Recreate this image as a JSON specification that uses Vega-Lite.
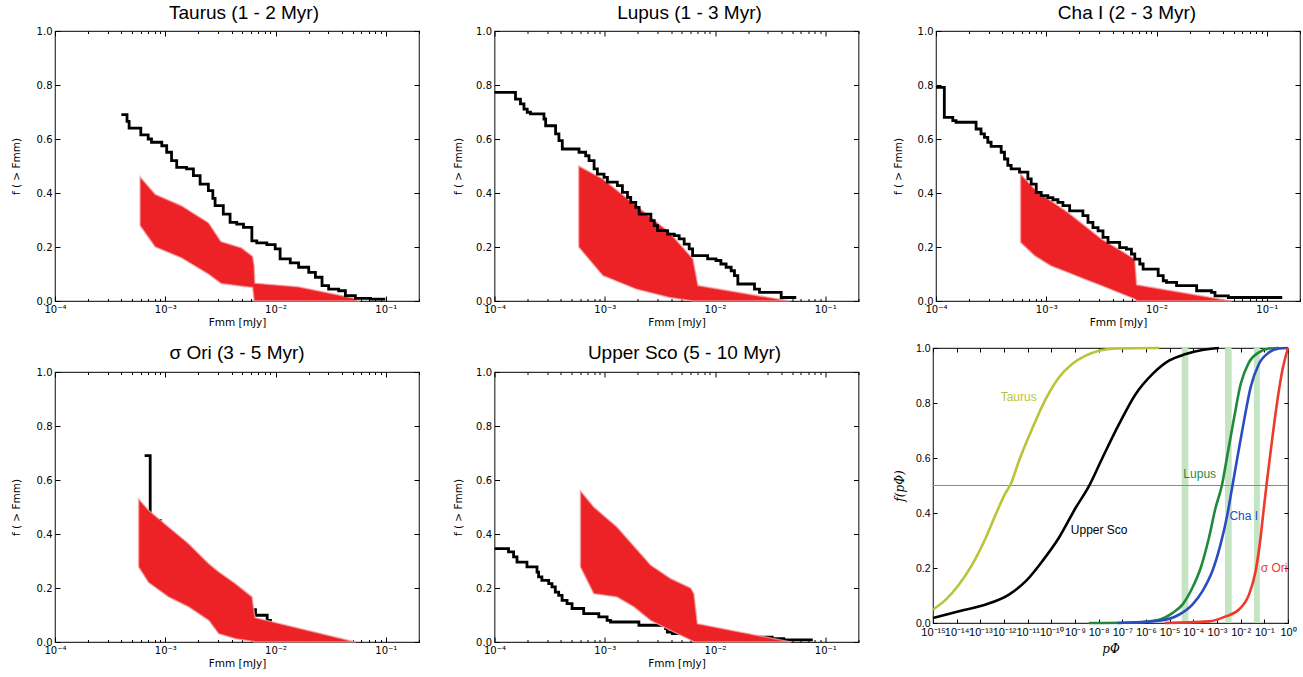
{
  "$schema": "https://vega.github.io/schema/vega-lite/v6.json",
  "background": "white",
  "padding": {"left": 10, "top": 3, "right": 0, "bottom": 0},
  "config": {
    "view": {"stroke": "#333", "strokeWidth": 1.2},
    "axis": {"domain": false, "grid": false, "tickColor": "#000", "tickWidth": 1, "labelColor": "#000", "titleColor": "#000", "labelFont": "DejaVu Sans", "labelFontSize": 10, "titleFont": "DejaVu Sans", "titleFontSize": 10.5, "titleFontWeight": "normal", "labelFlush": false, "labelOverlap": false},
    "title": {"font": "Liberation Sans", "fontSize": 19, "fontWeight": "normal", "color": "#000", "anchor": "middle", "baseline": "alphabetic"}
  },
  "datasets": {
    "taurus_obs": [{"x":4.0e-4,"y":0.69},{"x":4.5e-4,"y":0.665},{"x":4.7e-4,"y":0.64},{"x":6.0e-4,"y":0.615},{"x":7.0e-4,"y":0.6},{"x":7.5e-4,"y":0.588},{"x":9.3e-4,"y":0.575},{"x":1.03e-3,"y":0.551},{"x":1.14e-3,"y":0.52},{"x":1.27e-3,"y":0.495},{"x":1.56e-3,"y":0.489},{"x":1.8e-3,"y":0.464},{"x":2.07e-3,"y":0.433},{"x":2.46e-3,"y":0.409},{"x":2.7e-3,"y":0.38},{"x":2.83e-3,"y":0.353},{"x":3.36e-3,"y":0.322},{"x":3.87e-3,"y":0.291},{"x":4.45e-3,"y":0.285},{"x":5.12e-3,"y":0.273},{"x":6.1e-3,"y":0.223},{"x":6.76e-3,"y":0.215},{"x":8.34e-3,"y":0.209},{"x":9.93e-3,"y":0.193},{"x":1.1e-2,"y":0.156},{"x":1.36e-2,"y":0.141},{"x":1.62e-2,"y":0.125},{"x":2.0e-2,"y":0.106},{"x":2.3e-2,"y":0.088},{"x":2.64e-2,"y":0.057},{"x":3.03e-2,"y":0.044},{"x":3.74e-2,"y":0.038},{"x":4.3e-2,"y":0.02},{"x":5.3e-2,"y":0.01},{"x":7.26e-2,"y":0.007},{"x":0.099,"y":0.007}],
    "taurus_sim": [{"x":5.9e-4,"lo":0.28,"hi":0.46},{"x":8.1e-4,"lo":0.2,"hi":0.395},{"x":1.4e-3,"lo":0.16,"hi":0.353},{"x":2.46e-3,"lo":0.1,"hi":0.29},{"x":3.2e-3,"lo":0.065,"hi":0.22},{"x":4.9e-3,"lo":0.055,"hi":0.197},{"x":6.2e-3,"lo":0.05,"hi":0.165},{"x":6.4e-3,"lo":0,"hi":0.13},{"x":6.5e-3,"lo":0,"hi":0.066},{"x":1.6e-2,"lo":0,"hi":0.053},{"x":5.1e-2,"lo":0,"hi":0.011},{"x":5.6e-2,"lo":0,"hi":0}],
    "lupus_obs": [{"x":1.0e-4,"y":0.773},{"x":1.55e-4,"y":0.748},{"x":1.72e-4,"y":0.73},{"x":1.85e-4,"y":0.711},{"x":1.98e-4,"y":0.699},{"x":2.12e-4,"y":0.693},{"x":2.81e-4,"y":0.674},{"x":2.91e-4,"y":0.649},{"x":3.58e-4,"y":0.619},{"x":3.84e-4,"y":0.594},{"x":4.12e-4,"y":0.563},{"x":5.84e-4,"y":0.551},{"x":6.71e-4,"y":0.538},{"x":7.2e-4,"y":0.52},{"x":8.0e-4,"y":0.489},{"x":8.57e-4,"y":0.47},{"x":9.85e-4,"y":0.458},{"x":1.057e-3,"y":0.44},{"x":1.3e-3,"y":0.427},{"x":1.445e-3,"y":0.402},{"x":1.607e-3,"y":0.384},{"x":1.72e-3,"y":0.365},{"x":1.91e-3,"y":0.347},{"x":2.05e-3,"y":0.322},{"x":2.62e-3,"y":0.298},{"x":2.81e-3,"y":0.279},{"x":3.01e-3,"y":0.261},{"x":3.71e-3,"y":0.248},{"x":4.27e-3,"y":0.242},{"x":4.73e-3,"y":0.23},{"x":5.25e-3,"y":0.211},{"x":5.83e-3,"y":0.193},{"x":6.26e-3,"y":0.168},{"x":8.57e-3,"y":0.156},{"x":1.02e-2,"y":0.15},{"x":1.13e-2,"y":0.137},{"x":1.26e-2,"y":0.125},{"x":1.4e-2,"y":0.112},{"x":1.5e-2,"y":0.094},{"x":1.61e-2,"y":0.063},{"x":2.28e-2,"y":0.044},{"x":2.53e-2,"y":0.032},{"x":3.98e-2,"y":0.013},{"x":5.45e-2,"y":0.013}],
    "lupus_sim": [{"x":5.8e-4,"lo":0.2,"hi":0.5},{"x":9.6e-4,"lo":0.094,"hi":0.452},{"x":1.93e-3,"lo":0.044,"hi":0.353},{"x":3.86e-3,"lo":0.013,"hi":0.254},{"x":6.3e-3,"lo":0,"hi":0.156},{"x":7.0e-3,"lo":0,"hi":0.057},{"x":4.8e-2,"lo":0,"hi":0}],
    "cha_obs": [{"x":1.0e-4,"y":0.791},{"x":1.19e-4,"y":0.68},{"x":1.42e-4,"y":0.668},{"x":1.52e-4,"y":0.662},{"x":2.31e-4,"y":0.637},{"x":2.56e-4,"y":0.619},{"x":2.75e-4,"y":0.606},{"x":2.95e-4,"y":0.588},{"x":3.16e-4,"y":0.573},{"x":3.9e-4,"y":0.551},{"x":4.18e-4,"y":0.526},{"x":4.48e-4,"y":0.502},{"x":4.8e-4,"y":0.489},{"x":5.72e-4,"y":0.477},{"x":6.81e-4,"y":0.452},{"x":7.3e-4,"y":0.433},{"x":8.11e-4,"y":0.402},{"x":9.0e-4,"y":0.39},{"x":1.035e-3,"y":0.383},{"x":1.148e-3,"y":0.375},{"x":1.276e-3,"y":0.365},{"x":1.416e-3,"y":0.353},{"x":1.629e-3,"y":0.334},{"x":2.15e-3,"y":0.316},{"x":2.39e-3,"y":0.291},{"x":2.65e-3,"y":0.272},{"x":2.95e-3,"y":0.26},{"x":3.27e-3,"y":0.236},{"x":3.63e-3,"y":0.217},{"x":4.63e-3,"y":0.198},{"x":5.33e-3,"y":0.192},{"x":5.92e-3,"y":0.174},{"x":6.35e-3,"y":0.155},{"x":7.05e-3,"y":0.137},{"x":7.56e-3,"y":0.118},{"x":1.035e-2,"y":0.094},{"x":1.15e-2,"y":0.075},{"x":1.23e-2,"y":0.069},{"x":1.52e-2,"y":0.057},{"x":2.31e-2,"y":0.038},{"x":3.15e-2,"y":0.032},{"x":3.39e-2,"y":0.019},{"x":4.48e-2,"y":0.013},{"x":0.138,"y":0.013}],
    "cha_sim": [{"x":5.84e-4,"lo":0.217,"hi":0.47},{"x":7.83e-4,"lo":0.168,"hi":0.415},{"x":1.094e-3,"lo":0.131,"hi":0.372},{"x":1.57e-3,"lo":0.106,"hi":0.328},{"x":2.23e-3,"lo":0.081,"hi":0.279},{"x":3.16e-3,"lo":0.057,"hi":0.23},{"x":4.48e-3,"lo":0.032,"hi":0.193},{"x":6.35e-3,"lo":0.007,"hi":0.155},{"x":6.6e-3,"lo":0,"hi":0.06},{"x":4.8e-2,"lo":0,"hi":0}],
    "sigma_obs": [{"x":6.5e-4,"y":0.69},{"x":7.3e-4,"y":0.45},{"x":9.0e-4,"y":0.38},{"x":1.2e-3,"y":0.32},{"x":1.8e-3,"y":0.25},{"x":2.5e-3,"y":0.2},{"x":3.5e-3,"y":0.15},{"x":5.0e-3,"y":0.12},{"x":6.58e-3,"y":0.099},{"x":8.4e-3,"y":0.08},{"x":9.0e-3,"y":0.062},{"x":1.0e-2,"y":0.062}],
    "sigma_sim": [{"x":5.73e-4,"lo":0.278,"hi":0.53},{"x":7.06e-4,"lo":0.22,"hi":0.488},{"x":1.07e-3,"lo":0.167,"hi":0.426},{"x":1.63e-3,"lo":0.13,"hi":0.364},{"x":2.48e-3,"lo":0.08,"hi":0.29},{"x":3.05e-3,"lo":0.031,"hi":0.26},{"x":4.33e-3,"lo":0.012,"hi":0.216},{"x":6.13e-3,"lo":0.003,"hi":0.167},{"x":6.45e-3,"lo":0,"hi":0.1},{"x":6.55e-3,"lo":0,"hi":0.09},{"x":5.33e-2,"lo":0,"hi":0}],
    "upper_obs": [{"x":1.0e-4,"y":0.346},{"x":1.34e-4,"y":0.334},{"x":1.49e-4,"y":0.315},{"x":1.6e-4,"y":0.296},{"x":1.97e-4,"y":0.278},{"x":2.43e-4,"y":0.259},{"x":2.51e-4,"y":0.241},{"x":2.69e-4,"y":0.228},{"x":3.1e-4,"y":0.216},{"x":3.32e-4,"y":0.204},{"x":3.56e-4,"y":0.185},{"x":3.82e-4,"y":0.173},{"x":4.1e-4,"y":0.154},{"x":4.55e-4,"y":0.142},{"x":5.05e-4,"y":0.124},{"x":6.44e-4,"y":0.105},{"x":8.83e-4,"y":0.093},{"x":1.05e-3,"y":0.08},{"x":1.127e-3,"y":0.074},{"x":2.04e-3,"y":0.062},{"x":3.56e-3,"y":0.05},{"x":3.69e-3,"y":0.037},{"x":4.1e-3,"y":0.031},{"x":1.0e-2,"y":0.025},{"x":2.0e-2,"y":0.018},{"x":3.3e-2,"y":0.012},{"x":4.2e-2,"y":0.008},{"x":7.7e-2,"y":0.008}],
    "upper_sim": [{"x":6.01e-4,"lo":0.278,"hi":0.56},{"x":7.94e-4,"lo":0.179,"hi":0.5},{"x":1.29e-3,"lo":0.167,"hi":0.426},{"x":1.84e-3,"lo":0.13,"hi":0.355},{"x":2.6e-3,"lo":0.08,"hi":0.285},{"x":3.95e-3,"lo":0.043,"hi":0.235},{"x":6.01e-3,"lo":0.007,"hi":0.2},{"x":6.44e-3,"lo":0,"hi":0.179},{"x":6.91e-3,"lo":0,"hi":0.068},{"x":4.87e-2,"lo":0,"hi":0}],
    "bands": [{"x":3.236e-5,"x2":6.166e-5},{"x":2.188e-3,"x2":4.169e-3},{"x":0.03631,"x2":0.06457}],
    "hline": [{"y":0.5}],
    "curves": [
      {"region":"Taurus","x":1e-15,"y":0.049},{"region":"Taurus","x":3.47e-15,"y":0.085},{"region":"Taurus","x":1.26e-14,"y":0.14},{"region":"Taurus","x":4.57e-14,"y":0.213},{"region":"Taurus","x":1.7e-13,"y":0.31},{"region":"Taurus","x":4.47e-13,"y":0.395},{"region":"Taurus","x":1.18e-12,"y":0.474},{"region":"Taurus","x":1.9e-12,"y":0.504},{"region":"Taurus","x":4.27e-12,"y":0.589},{"region":"Taurus","x":1.58e-11,"y":0.708},{"region":"Taurus","x":5.75e-11,"y":0.814},{"region":"Taurus","x":2.09e-10,"y":0.893},{"region":"Taurus","x":7.59e-10,"y":0.942},{"region":"Taurus","x":2.82e-9,"y":0.972},{"region":"Taurus","x":1.02e-8,"y":0.99},{"region":"Taurus","x":5.25e-8,"y":0.998},{"region":"Taurus","x":3.55e-6,"y":1.0},
      {"region":"Upper Sco","x":1e-15,"y":0.018},{"region":"Upper Sco","x":1.26e-14,"y":0.043},{"region":"Upper Sco","x":1.7e-13,"y":0.067},{"region":"Upper Sco","x":1.62e-12,"y":0.103},{"region":"Upper Sco","x":8.32e-12,"y":0.152},{"region":"Upper Sco","x":4.17e-11,"y":0.225},{"region":"Upper Sco","x":2.09e-10,"y":0.31},{"region":"Upper Sco","x":1.07e-9,"y":0.419},{"region":"Upper Sco","x":3.89e-9,"y":0.498},{"region":"Upper Sco","x":1.45e-8,"y":0.601},{"region":"Upper Sco","x":7.24e-8,"y":0.723},{"region":"Upper Sco","x":3.63e-7,"y":0.832},{"region":"Upper Sco","x":1.86e-6,"y":0.905},{"region":"Upper Sco","x":9.33e-6,"y":0.954},{"region":"Upper Sco","x":4.79e-5,"y":0.978},{"region":"Upper Sco","x":2.4e-4,"y":0.993},{"region":"Upper Sco","x":1.2e-3,"y":1.0},
      {"region":"Lupus","x":3.89e-9,"y":0},{"region":"Lupus","x":3.16e-7,"y":0.002},{"region":"Lupus","x":3.55e-6,"y":0.012},{"region":"Lupus","x":1.29e-5,"y":0.036},{"region":"Lupus","x":3.47e-5,"y":0.067},{"region":"Lupus","x":9.12e-5,"y":0.128},{"region":"Lupus","x":2.04e-4,"y":0.2},{"region":"Lupus","x":4.57e-4,"y":0.31},{"region":"Lupus","x":8.71e-4,"y":0.419},{"region":"Lupus","x":1.585e-3,"y":0.498},{"region":"Lupus","x":2.75e-3,"y":0.611},{"region":"Lupus","x":5.25e-3,"y":0.745},{"region":"Lupus","x":0.01,"y":0.869},{"region":"Lupus","x":0.0224,"y":0.948},{"region":"Lupus","x":0.0589,"y":0.984},{"region":"Lupus","x":0.1585,"y":0.998},{"region":"Lupus","x":0.417,"y":1.0},
      {"region":"Cha I","x":6.3e-8,"y":0},{"region":"Cha I","x":3.55e-6,"y":0.008},{"region":"Cha I","x":2.455e-5,"y":0.03},{"region":"Cha I","x":9.12e-5,"y":0.067},{"region":"Cha I","x":2.4e-4,"y":0.115},{"region":"Cha I","x":6.31e-4,"y":0.188},{"region":"Cha I","x":1.413e-3,"y":0.286},{"region":"Cha I","x":2.754e-3,"y":0.395},{"region":"Cha I","x":4.467e-3,"y":0.498},{"region":"Cha I","x":7.244e-3,"y":0.601},{"region":"Cha I","x":0.0138,"y":0.735},{"region":"Cha I","x":0.0263,"y":0.857},{"region":"Cha I","x":0.0589,"y":0.942},{"region":"Cha I","x":0.1585,"y":0.984},{"region":"Cha I","x":0.417,"y":0.998},{"region":"Cha I","x":1,"y":1.0},
      {"region":"σ Ori","x":6.31e-6,"y":0},{"region":"σ Ori","x":4.57e-4,"y":0.006},{"region":"σ Ori","x":2.344e-3,"y":0.024},{"region":"σ Ori","x":8.51e-3,"y":0.049},{"region":"σ Ori","x":0.0224,"y":0.103},{"region":"σ Ori","x":0.0427,"y":0.188},{"region":"σ Ori","x":0.0692,"y":0.31},{"region":"σ Ori","x":0.0955,"y":0.419},{"region":"σ Ori","x":0.1349,"y":0.529},{"region":"σ Ori","x":0.2188,"y":0.674},{"region":"σ Ori","x":0.3548,"y":0.808},{"region":"σ Ori","x":0.5754,"y":0.918},{"region":"σ Ori","x":1,"y":1.0}
    ],
    "labels": [{"region":"Taurus","label":"Taurus","x":4.17e-12,"y":0.822},{"region":"Lupus","label":"Lupus","x":1.86e-4,"y":0.541},{"region":"Cha I","label":"Cha I","x":0.0135,"y":0.389},{"region":"Upper Sco","label":"Upper Sco","x":1.05e-8,"y":0.34},{"region":"σ Ori","label":"σ Ori","x":0.26,"y":0.2}]
  },
  "columns": 3,
  "align": "none",
  "spacing": {"row": 13, "column": 31.5},
  "concat": [
    {
      "width": 364, "height": 270,
      "title": {"text": "Taurus (1 - 2 Myr)", "dx": 7, "offset": 3},
      "layer": [
        {"data": {"name": "taurus_sim"}, "mark": {"type": "area", "color": "#ec2227", "stroke": "#f4a6a6", "strokeWidth": 1.5, "strokeOpacity": 0.7},
         "encoding": {"x": {"field": "x", "type": "quantitative", "scale": {"type": "log", "domain": [0.0001, 0.2], "nice": false}, "axis": {"orient": "bottom", "values": [0.0001, 0.001, 0.01, 0.1], "labelExpr": "'10' + (datum.value < 1 ? '⁻' : '') + substring('⁰¹²³⁴⁵⁶⁷⁸⁹', abs(round(log(datum.value) / LN10)) % 10, abs(round(log(datum.value) / LN10)) % 10 + 1)", "title": "Fmm [mJy]", "tickSize": -5, "labelPadding": 8, "titlePadding": 3}},
                      "y": {"field": "hi", "type": "quantitative", "scale": {"domain": [0, 1], "nice": false}, "axis": {"orient": "left", "values": [0, 0.2, 0.4, 0.6, 0.8, 1], "format": ".1f", "title": "f ( > Fmm)", "tickSize": -5, "labelPadding": 8, "titlePadding": 13, "minExtent": 21, "maxExtent": 21}},
                      "y2": {"field": "lo"}}},
        {"data": {"name": "taurus_obs"}, "mark": {"type": "line", "color": "#000", "strokeWidth": 2.8, "interpolate": "step-after"},
         "encoding": {"x": {"field": "x", "type": "quantitative", "scale": {"type": "log", "domain": [0.0001, 0.2], "nice": false}, "axis": {"orient": "top", "values": [0.0001, 0.001, 0.01, 0.1], "labels": false, "title": null, "tickSize": -5}},
                      "y": {"field": "y", "type": "quantitative", "scale": {"domain": [0, 1], "nice": false}, "axis": {"orient": "right", "values": [0, 0.2, 0.4, 0.6, 0.8, 1], "labels": false, "title": null, "tickSize": -5}}}},
        {"data": {"name": "taurus_obs"}, "mark": {"type": "point", "opacity": 0},
         "encoding": {"x": {"field": "x", "type": "quantitative", "scale": {"type": "log", "domain": [0.0001, 0.2], "nice": false}, "axis": {"orient": "bottom", "values": [0.0002,0.0003,0.0004,0.0005,0.0006,0.0007,0.0008,0.0009,0.002,0.003,0.004,0.005,0.006,0.007,0.008,0.009,0.02,0.03,0.04,0.05,0.06,0.07,0.08,0.09,0.2], "labels": false, "title": null, "tickSize": -2.5}},
                      "y": {"field": "y", "type": "quantitative", "scale": {"domain": [0, 1], "nice": false}, "axis": null}}},
        {"data": {"name": "taurus_obs"}, "mark": {"type": "point", "opacity": 0},
         "encoding": {"x": {"field": "x", "type": "quantitative", "scale": {"type": "log", "domain": [0.0001, 0.2], "nice": false}, "axis": {"orient": "top", "values": [0.0002,0.0003,0.0004,0.0005,0.0006,0.0007,0.0008,0.0009,0.002,0.003,0.004,0.005,0.006,0.007,0.008,0.009,0.02,0.03,0.04,0.05,0.06,0.07,0.08,0.09,0.2], "labels": false, "title": null, "tickSize": -2.5}},
                      "y": {"field": "y", "type": "quantitative", "scale": {"domain": [0, 1], "nice": false}, "axis": null}}}
      ],
      "resolve": {"axis": {"x": "independent", "y": "independent"}}
    },
    {
      "width": 364, "height": 270,
      "title": {"text": "Lupus (1 - 3 Myr)", "dx": 13, "offset": 3},
      "layer": [
        {"data": {"name": "lupus_sim"}, "mark": {"type": "area", "color": "#ec2227", "stroke": "#f4a6a6", "strokeWidth": 1.5, "strokeOpacity": 0.7},
         "encoding": {"x": {"field": "x", "type": "quantitative", "scale": {"type": "log", "domain": [0.0001, 0.2], "nice": false}, "axis": {"orient": "bottom", "values": [0.0001, 0.001, 0.01, 0.1], "labelExpr": "'10' + (datum.value < 1 ? '⁻' : '') + substring('⁰¹²³⁴⁵⁶⁷⁸⁹', abs(round(log(datum.value) / LN10)) % 10, abs(round(log(datum.value) / LN10)) % 10 + 1)", "title": "Fmm [mJy]", "tickSize": -5, "labelPadding": 8, "titlePadding": 3}},
                      "y": {"field": "hi", "type": "quantitative", "scale": {"domain": [0, 1], "nice": false}, "axis": {"orient": "left", "values": [0, 0.2, 0.4, 0.6, 0.8, 1], "format": ".1f", "title": "f ( > Fmm)", "tickSize": -5, "labelPadding": 8, "titlePadding": 10, "minExtent": 21, "maxExtent": 21}},
                      "y2": {"field": "lo"}}},
        {"data": {"name": "lupus_obs"}, "mark": {"type": "line", "color": "#000", "strokeWidth": 2.8, "interpolate": "step-after"},
         "encoding": {"x": {"field": "x", "type": "quantitative", "scale": {"type": "log", "domain": [0.0001, 0.2], "nice": false}, "axis": {"orient": "top", "values": [0.0001, 0.001, 0.01, 0.1], "labels": false, "title": null, "tickSize": -5}},
                      "y": {"field": "y", "type": "quantitative", "scale": {"domain": [0, 1], "nice": false}, "axis": {"orient": "right", "values": [0, 0.2, 0.4, 0.6, 0.8, 1], "labels": false, "title": null, "tickSize": -5}}}},
        {"data": {"name": "lupus_obs"}, "mark": {"type": "point", "opacity": 0},
         "encoding": {"x": {"field": "x", "type": "quantitative", "scale": {"type": "log", "domain": [0.0001, 0.2], "nice": false}, "axis": {"orient": "bottom", "values": [0.0002,0.0003,0.0004,0.0005,0.0006,0.0007,0.0008,0.0009,0.002,0.003,0.004,0.005,0.006,0.007,0.008,0.009,0.02,0.03,0.04,0.05,0.06,0.07,0.08,0.09,0.2], "labels": false, "title": null, "tickSize": -2.5}},
                      "y": {"field": "y", "type": "quantitative", "scale": {"domain": [0, 1], "nice": false}, "axis": null}}},
        {"data": {"name": "lupus_obs"}, "mark": {"type": "point", "opacity": 0},
         "encoding": {"x": {"field": "x", "type": "quantitative", "scale": {"type": "log", "domain": [0.0001, 0.2], "nice": false}, "axis": {"orient": "top", "values": [0.0002,0.0003,0.0004,0.0005,0.0006,0.0007,0.0008,0.0009,0.002,0.003,0.004,0.005,0.006,0.007,0.008,0.009,0.02,0.03,0.04,0.05,0.06,0.07,0.08,0.09,0.2], "labels": false, "title": null, "tickSize": -2.5}},
                      "y": {"field": "y", "type": "quantitative", "scale": {"domain": [0, 1], "nice": false}, "axis": null}}}
      ],
      "resolve": {"axis": {"x": "independent", "y": "independent"}}
    },
    {
      "width": 364, "height": 270,
      "title": {"text": "Cha I (2 - 3 Myr)", "dx": 9, "offset": 3},
      "layer": [
        {"data": {"name": "cha_sim"}, "mark": {"type": "area", "color": "#ec2227", "stroke": "#f4a6a6", "strokeWidth": 1.5, "strokeOpacity": 0.7},
         "encoding": {"x": {"field": "x", "type": "quantitative", "scale": {"type": "log", "domain": [0.0001, 0.2], "nice": false}, "axis": {"orient": "bottom", "values": [0.0001, 0.001, 0.01, 0.1], "labelExpr": "'10' + (datum.value < 1 ? '⁻' : '') + substring('⁰¹²³⁴⁵⁶⁷⁸⁹', abs(round(log(datum.value) / LN10)) % 10, abs(round(log(datum.value) / LN10)) % 10 + 1)", "title": "Fmm [mJy]", "tickSize": -5, "labelPadding": 8, "titlePadding": 3}},
                      "y": {"field": "hi", "type": "quantitative", "scale": {"domain": [0, 1], "nice": false}, "axis": {"orient": "left", "values": [0, 0.2, 0.4, 0.6, 0.8, 1], "format": ".1f", "title": "f ( > Fmm)", "tickSize": -5, "labelPadding": 8, "titlePadding": 11.5, "minExtent": 21, "maxExtent": 21}},
                      "y2": {"field": "lo"}}},
        {"data": {"name": "cha_obs"}, "mark": {"type": "line", "color": "#000", "strokeWidth": 2.8, "interpolate": "step-after"},
         "encoding": {"x": {"field": "x", "type": "quantitative", "scale": {"type": "log", "domain": [0.0001, 0.2], "nice": false}, "axis": {"orient": "top", "values": [0.0001, 0.001, 0.01, 0.1], "labels": false, "title": null, "tickSize": -5}},
                      "y": {"field": "y", "type": "quantitative", "scale": {"domain": [0, 1], "nice": false}, "axis": {"orient": "right", "values": [0, 0.2, 0.4, 0.6, 0.8, 1], "labels": false, "title": null, "tickSize": -5}}}},
        {"data": {"name": "cha_obs"}, "mark": {"type": "point", "opacity": 0},
         "encoding": {"x": {"field": "x", "type": "quantitative", "scale": {"type": "log", "domain": [0.0001, 0.2], "nice": false}, "axis": {"orient": "bottom", "values": [0.0002,0.0003,0.0004,0.0005,0.0006,0.0007,0.0008,0.0009,0.002,0.003,0.004,0.005,0.006,0.007,0.008,0.009,0.02,0.03,0.04,0.05,0.06,0.07,0.08,0.09,0.2], "labels": false, "title": null, "tickSize": -2.5}},
                      "y": {"field": "y", "type": "quantitative", "scale": {"domain": [0, 1], "nice": false}, "axis": null}}},
        {"data": {"name": "cha_obs"}, "mark": {"type": "point", "opacity": 0},
         "encoding": {"x": {"field": "x", "type": "quantitative", "scale": {"type": "log", "domain": [0.0001, 0.2], "nice": false}, "axis": {"orient": "top", "values": [0.0002,0.0003,0.0004,0.0005,0.0006,0.0007,0.0008,0.0009,0.002,0.003,0.004,0.005,0.006,0.007,0.008,0.009,0.02,0.03,0.04,0.05,0.06,0.07,0.08,0.09,0.2], "labels": false, "title": null, "tickSize": -2.5}},
                      "y": {"field": "y", "type": "quantitative", "scale": {"domain": [0, 1], "nice": false}, "axis": null}}}
      ],
      "resolve": {"axis": {"x": "independent", "y": "independent"}}
    },
    {
      "width": 364, "height": 270,
      "title": {"text": "σ Ori (3 - 5 Myr)", "dx": 0, "offset": 4.5},
      "layer": [
        {"data": {"name": "sigma_obs"}, "mark": {"type": "line", "color": "#000", "strokeWidth": 2.8, "interpolate": "step-after"},
         "encoding": {"x": {"field": "x", "type": "quantitative", "scale": {"type": "log", "domain": [0.0001, 0.2], "nice": false}, "axis": {"orient": "top", "values": [0.0001, 0.001, 0.01, 0.1], "labels": false, "title": null, "tickSize": -5}},
                      "y": {"field": "y", "type": "quantitative", "scale": {"domain": [0, 1], "nice": false}, "axis": {"orient": "right", "values": [0, 0.2, 0.4, 0.6, 0.8, 1], "labels": false, "title": null, "tickSize": -5}}}},
        {"data": {"name": "sigma_sim"}, "mark": {"type": "area", "color": "#ec2227", "stroke": "#f4a6a6", "strokeWidth": 1.5, "strokeOpacity": 0.7},
         "encoding": {"x": {"field": "x", "type": "quantitative", "scale": {"type": "log", "domain": [0.0001, 0.2], "nice": false}, "axis": {"orient": "bottom", "values": [0.0001, 0.001, 0.01, 0.1], "labelExpr": "'10' + (datum.value < 1 ? '⁻' : '') + substring('⁰¹²³⁴⁵⁶⁷⁸⁹', abs(round(log(datum.value) / LN10)) % 10, abs(round(log(datum.value) / LN10)) % 10 + 1)", "title": "Fmm [mJy]", "tickSize": -5, "labelPadding": 8, "titlePadding": 3}},
                      "y": {"field": "hi", "type": "quantitative", "scale": {"domain": [0, 1], "nice": false}, "axis": {"orient": "left", "values": [0, 0.2, 0.4, 0.6, 0.8, 1], "format": ".1f", "title": "f ( > Fmm)", "tickSize": -5, "labelPadding": 8, "titlePadding": 13, "minExtent": 21, "maxExtent": 21}},
                      "y2": {"field": "lo"}}},
        {"data": {"name": "sigma_obs"}, "mark": {"type": "point", "opacity": 0},
         "encoding": {"x": {"field": "x", "type": "quantitative", "scale": {"type": "log", "domain": [0.0001, 0.2], "nice": false}, "axis": {"orient": "bottom", "values": [0.0002,0.0003,0.0004,0.0005,0.0006,0.0007,0.0008,0.0009,0.002,0.003,0.004,0.005,0.006,0.007,0.008,0.009,0.02,0.03,0.04,0.05,0.06,0.07,0.08,0.09,0.2], "labels": false, "title": null, "tickSize": -2.5}},
                      "y": {"field": "y", "type": "quantitative", "scale": {"domain": [0, 1], "nice": false}, "axis": null}}},
        {"data": {"name": "sigma_obs"}, "mark": {"type": "point", "opacity": 0},
         "encoding": {"x": {"field": "x", "type": "quantitative", "scale": {"type": "log", "domain": [0.0001, 0.2], "nice": false}, "axis": {"orient": "top", "values": [0.0002,0.0003,0.0004,0.0005,0.0006,0.0007,0.0008,0.0009,0.002,0.003,0.004,0.005,0.006,0.007,0.008,0.009,0.02,0.03,0.04,0.05,0.06,0.07,0.08,0.09,0.2], "labels": false, "title": null, "tickSize": -2.5}},
                      "y": {"field": "y", "type": "quantitative", "scale": {"domain": [0, 1], "nice": false}, "axis": null}}}
      ],
      "resolve": {"axis": {"x": "independent", "y": "independent"}}
    },
    {
      "width": 364, "height": 270,
      "title": {"text": "Upper Sco (5 - 10 Myr)", "dx": 8, "offset": 4.5},
      "layer": [
        {"data": {"name": "upper_obs"}, "mark": {"type": "line", "color": "#000", "strokeWidth": 2.8, "interpolate": "step-after"},
         "encoding": {"x": {"field": "x", "type": "quantitative", "scale": {"type": "log", "domain": [0.0001, 0.2], "nice": false}, "axis": {"orient": "top", "values": [0.0001, 0.001, 0.01, 0.1], "labels": false, "title": null, "tickSize": -5}},
                      "y": {"field": "y", "type": "quantitative", "scale": {"domain": [0, 1], "nice": false}, "axis": {"orient": "right", "values": [0, 0.2, 0.4, 0.6, 0.8, 1], "labels": false, "title": null, "tickSize": -5}}}},
        {"data": {"name": "upper_sim"}, "mark": {"type": "area", "color": "#ec2227", "stroke": "#f4a6a6", "strokeWidth": 1.5, "strokeOpacity": 0.7},
         "encoding": {"x": {"field": "x", "type": "quantitative", "scale": {"type": "log", "domain": [0.0001, 0.2], "nice": false}, "axis": {"orient": "bottom", "values": [0.0001, 0.001, 0.01, 0.1], "labelExpr": "'10' + (datum.value < 1 ? '⁻' : '') + substring('⁰¹²³⁴⁵⁶⁷⁸⁹', abs(round(log(datum.value) / LN10)) % 10, abs(round(log(datum.value) / LN10)) % 10 + 1)", "title": "Fmm [mJy]", "tickSize": -5, "labelPadding": 8, "titlePadding": 3}},
                      "y": {"field": "hi", "type": "quantitative", "scale": {"domain": [0, 1], "nice": false}, "axis": {"orient": "left", "values": [0, 0.2, 0.4, 0.6, 0.8, 1], "format": ".1f", "title": "f ( > Fmm)", "tickSize": -5, "labelPadding": 8, "titlePadding": 10, "minExtent": 21, "maxExtent": 21}},
                      "y2": {"field": "lo"}}},
        {"data": {"name": "upper_obs"}, "mark": {"type": "point", "opacity": 0},
         "encoding": {"x": {"field": "x", "type": "quantitative", "scale": {"type": "log", "domain": [0.0001, 0.2], "nice": false}, "axis": {"orient": "bottom", "values": [0.0002,0.0003,0.0004,0.0005,0.0006,0.0007,0.0008,0.0009,0.002,0.003,0.004,0.005,0.006,0.007,0.008,0.009,0.02,0.03,0.04,0.05,0.06,0.07,0.08,0.09,0.2], "labels": false, "title": null, "tickSize": -2.5}},
                      "y": {"field": "y", "type": "quantitative", "scale": {"domain": [0, 1], "nice": false}, "axis": null}}},
        {"data": {"name": "upper_obs"}, "mark": {"type": "point", "opacity": 0},
         "encoding": {"x": {"field": "x", "type": "quantitative", "scale": {"type": "log", "domain": [0.0001, 0.2], "nice": false}, "axis": {"orient": "top", "values": [0.0002,0.0003,0.0004,0.0005,0.0006,0.0007,0.0008,0.0009,0.002,0.003,0.004,0.005,0.006,0.007,0.008,0.009,0.02,0.03,0.04,0.05,0.06,0.07,0.08,0.09,0.2], "labels": false, "title": null, "tickSize": -2.5}},
                      "y": {"field": "y", "type": "quantitative", "scale": {"domain": [0, 1], "nice": false}, "axis": null}}}
      ],
      "resolve": {"axis": {"x": "independent", "y": "independent"}}
    },
    {
      "width": 355, "height": 275,
      "layer": [
        {"data": {"name": "bands"}, "mark": {"type": "rect", "color": "#c4e4c4"},
         "encoding": {"x": {"field": "x", "type": "quantitative", "scale": {"type": "log", "domain": [1e-15, 1], "nice": false}, "axis": {"orient": "bottom", "values": [1e-15,1e-14,1e-13,1e-12,1e-11,1e-10,1e-9,1e-8,1e-7,1e-6,1e-5,1e-4,1e-3,1e-2,1e-1,1], "labelExpr": "'10' + (datum.value < 1 ? '⁻' : '') + (abs(round(log(datum.value) / LN10)) >= 10 ? substring('⁰¹²³⁴⁵⁶⁷⁸⁹', floor(abs(round(log(datum.value) / LN10)) / 10), floor(abs(round(log(datum.value) / LN10)) / 10) + 1) : '') + substring('⁰¹²³⁴⁵⁶⁷⁸⁹', abs(round(log(datum.value) / LN10)) % 10, abs(round(log(datum.value) / LN10)) % 10 + 1)", "title": "pΦ", "titleFont": "DejaVu Serif", "titleFontStyle": "italic", "titleFontSize": 12, "tickSize": -4, "labelPadding": 7, "labelFont": "Liberation Sans", "labelFontSize": 11, "titlePadding": 6}},
                      "x2": {"field": "x2"}}},
        {"data": {"name": "hline"}, "mark": {"type": "rule", "color": "#8a8a8a", "strokeWidth": 1.2},
         "encoding": {"y": {"field": "y", "type": "quantitative", "scale": {"domain": [0, 1], "nice": false}, "axis": {"orient": "left", "values": [0, 0.2, 0.4, 0.6, 0.8, 1], "format": ".1f", "title": "f(pΦ)", "titleFont": "DejaVu Serif", "titleFontStyle": "italic", "titleFontSize": 12, "tickSize": -4, "labelPadding": 7, "labelFont": "Liberation Sans", "labelFontSize": 10.5, "titlePadding": 8, "minExtent": 19, "maxExtent": 19}}}},
        {"data": {"name": "curves"}, "mark": {"type": "line", "strokeWidth": 2.6, "interpolate": "monotone"},
         "encoding": {"x": {"field": "x", "type": "quantitative", "scale": {"type": "log", "domain": [1e-15, 1], "nice": false}, "axis": {"orient": "top", "values": [1e-15,1e-14,1e-13,1e-12,1e-11,1e-10,1e-9,1e-8,1e-7,1e-6,1e-5,1e-4,1e-3,1e-2,1e-1,1], "labels": false, "title": null, "tickSize": -4}},
                      "y": {"field": "y", "type": "quantitative", "scale": {"domain": [0, 1], "nice": false}, "axis": {"orient": "right", "values": [0, 0.2, 0.4, 0.6, 0.8, 1], "labels": false, "title": null, "tickSize": -4}},
                      "color": {"field": "region", "type": "nominal", "scale": {"domain": ["Taurus", "Lupus", "Cha I", "σ Ori", "Upper Sco"], "range": ["#b9c43a", "#1f8a3c", "#2a4bc4", "#ee3a2a", "#000000"]}, "legend": null}}},
        {"data": {"name": "labels"}, "mark": {"type": "text", "font": "Liberation Sans", "fontSize": 12, "align": "center", "baseline": "middle"},
         "encoding": {"x": {"field": "x", "type": "quantitative", "scale": {"type": "log", "domain": [1e-15, 1], "nice": false}, "axis": null},
                      "y": {"field": "y", "type": "quantitative", "scale": {"domain": [0, 1], "nice": false}, "axis": null},
                      "text": {"field": "label"},
                      "color": {"field": "region", "type": "nominal", "legend": null}}}
      ],
      "resolve": {"axis": {"x": "independent", "y": "independent"}}
    }
  ]
}
